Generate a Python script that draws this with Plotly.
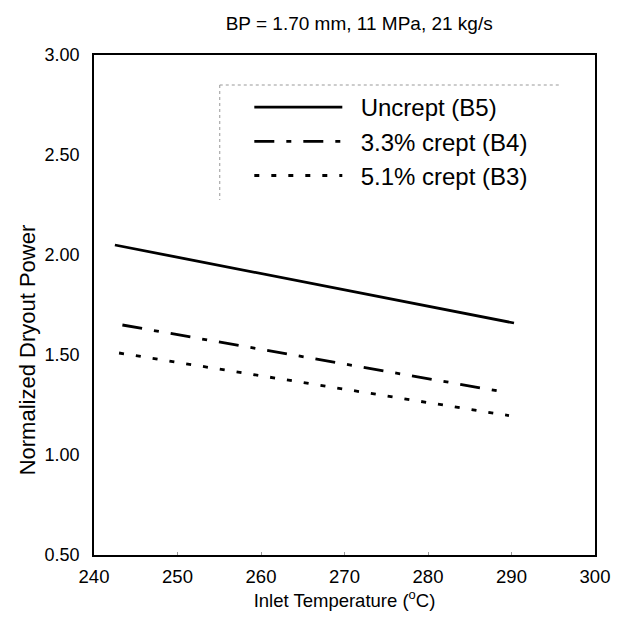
import plotly.graph_objects as go

# Data
temp_uncrept = [242.5, 290.3]
power_uncrept = [2.05, 1.66]
temp_b4 = [243.4, 289.1]
power_b4 = [1.65, 1.315]
temp_b3 = [243.0, 289.7]
power_b3 = [1.51, 1.197]

names = ["Uncrept (B5)", "3.3% crept (B4)", "5.1% crept (B3)"]
x_ticks = [240, 250, 260, 270, 280, 290, 300]
y_ticks = [0.5, 1.0, 1.5, 2.0, 2.5, 3.0]
y_tick_labels = ["0.50", "1.00", "1.50", "2.00", "2.50", "3.00"]
y_title = "Normalized Dryout Power"

FONT = "Liberation Sans, Arial, sans-serif"
PAD = "\u00a0\u00a0"

fig = go.Figure()
fig.add_trace(go.Scatter(x=temp_uncrept, y=power_uncrept, mode="lines", name=PAD + names[0],
                         line=dict(color="black", width=2.8)))
fig.add_trace(go.Scatter(x=temp_b4, y=power_b4, mode="lines", name=PAD + names[1],
                         line=dict(color="black", width=2.8, dash="20px,12px,5px,12px")))
fig.add_trace(go.Scatter(x=temp_b3, y=power_b3, mode="lines", name=PAD + names[2],
                         line=dict(color="black", width=2.8, dash="5px,12px")))

# the page body has an 8px margin: the figure is shrunk by that much so it fits the window
fig.update_layout(
    width=614, height=611,
    margin=dict(l=86, r=24, t=47, b=64),
    paper_bgcolor="white", plot_bgcolor="white",
    font=dict(family=FONT, color="black"),
    title=dict(text="BP = 1.70 mm, 11 MPa, 21 kg/s", x=0.572, xanchor="center",
               y=0.9755, yanchor="middle", font=dict(size=19, family=FONT)),
    legend=dict(x=0.31, y=0.94, xanchor="left", yanchor="top",
                font=dict(size=24, family=FONT), bgcolor="rgba(0,0,0,0)",
                itemwidth=88, tracegroupgap=0),
    showlegend=True,
)
fig.update_xaxes(range=[240, 300], tickvals=x_ticks, showgrid=False, zeroline=False,
                 showline=True, linecolor="black", linewidth=1.5, mirror=True,
                 ticks="inside", ticklen=3, tickcolor="#999",
                 tickfont=dict(size=18.5), ticklabelstandoff=4,
                 title=dict(text="Inlet Temperature (<sup>o</sup>C)",
                            font=dict(size=18.5), standoff=7))
fig.update_yaxes(range=[0.5, 3.0], tickvals=y_ticks, ticktext=y_tick_labels,
                 showgrid=False, zeroline=False,
                 showline=True, linecolor="black", linewidth=1.5, mirror=True,
                 ticks="", tickfont=dict(size=18), ticklabelstandoff=9)

# y-axis title sits a little below the middle of the axis in the reference
fig.add_annotation(text=y_title, textangle=-90, xref="paper", yref="paper",
                   x=-0.133, y=0.41, xanchor="center", yanchor="middle",
                   showarrow=False, font=dict(size=22, family=FONT))

# faint dotted legend frame (top and left edges as in the scan)
fig.add_shape(type="line", xref="paper", yref="paper", x0=0.251, x1=0.93, y0=0.94, y1=0.94,
              line=dict(color="#999", width=1, dash="dot"))
fig.add_shape(type="line", xref="paper", yref="paper", x0=0.251, x1=0.251, y0=0.94, y1=0.71,
              line=dict(color="#999", width=1, dash="dot"))

fig.write_html("out.html")
